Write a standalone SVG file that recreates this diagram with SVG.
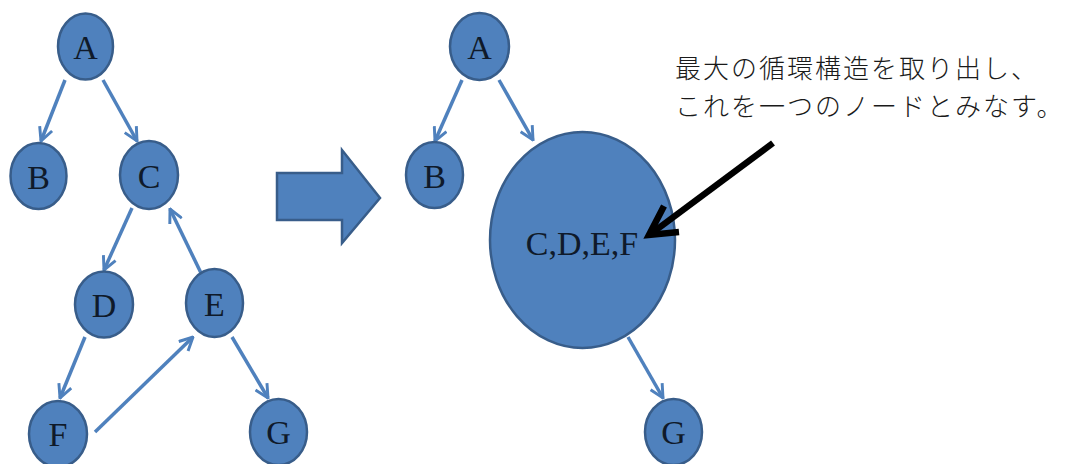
<svg xmlns="http://www.w3.org/2000/svg" width="1070" height="464" viewBox="0 0 1070 464">
  <style>
    .node ellipse { fill: #4F81BD; stroke: #385D8A; stroke-width: 2.5; }
    .node text { font-family: "Liberation Serif", "DejaVu Serif", serif; font-size: 34px; fill: #0F1A2A; text-anchor: middle; dominant-baseline: central; }
    .edge { stroke: #4F81BD; stroke-width: 3.5; fill: none; marker-end: url(#open); }
    .note { font-family: "Noto Sans CJK JP", "Noto Sans", sans-serif; font-size: 26px; font-weight: 300; letter-spacing: 2px; fill: #1A1A1A; }
    .pointer { stroke: #000; stroke-width: 6.5; fill: none; stroke-linecap: butt; stroke-linejoin: miter; }
  </style>
  <defs>
    <marker id="open" viewBox="0 0 12 12" refX="11" refY="6" markerWidth="16" markerHeight="16" markerUnits="userSpaceOnUse" orient="auto">
      <path d="M1,1 L11,6 L1,11" fill="none" stroke="#4F81BD" stroke-width="2.2" stroke-linejoin="miter"/>
    </marker>
  </defs>

  <rect width="1070" height="464" fill="#FFFFFF"/>

  <!-- connectors -->
  <g id="connectors">
    <!-- left graph -->
    <line class="edge" x1="65" y1="80" x2="41" y2="141"/>
    <line class="edge" x1="103" y1="80" x2="137" y2="141"/>
    <line class="edge" x1="132" y1="208" x2="104" y2="270"/>
    <line class="edge" x1="201" y1="273" x2="170" y2="209"/>
    <line class="edge" x1="85" y1="337" x2="60" y2="398"/>
    <line class="edge" x1="95" y1="432" x2="193" y2="337"/>
    <line class="edge" x1="232" y1="337" x2="268" y2="398"/>
    <!-- right graph -->
    <line class="edge" x1="462" y1="80" x2="435" y2="141"/>
    <line class="edge" x1="499" y1="80" x2="533" y2="140"/>
    <line class="edge" x1="628" y1="337" x2="663" y2="398"/>
  </g>

  <!-- transformation arrow -->
  <g id="transform-arrow">
    <polygon points="277,173 342,173 342,150 380,198 342,243 342,220 277,220" fill="#4F81BD" stroke="#385D8A" stroke-width="2.5" stroke-linejoin="miter"/>
  </g>

  <!-- left graph nodes -->
  <g id="nodeA1" class="node"><ellipse cx="85.5" cy="46.5" rx="27.5" ry="33"/><text x="85.5" y="47">A</text></g>
  <g id="nodeB1" class="node"><ellipse cx="38.5" cy="176" rx="28" ry="33"/><text x="38.5" y="177">B</text></g>
  <g id="nodeC1" class="node"><ellipse cx="149" cy="175" rx="29" ry="34"/><text x="149" y="176">C</text></g>
  <g id="nodeD1" class="node"><ellipse cx="104" cy="304.5" rx="29" ry="33"/><text x="104" y="305">D</text></g>
  <g id="nodeE1" class="node"><ellipse cx="214.5" cy="303" rx="28.5" ry="34"/><text x="214.5" y="304">E</text></g>
  <g id="nodeF1" class="node"><ellipse cx="58" cy="434" rx="29" ry="33"/><text x="58" y="434">F</text></g>
  <g id="nodeG1" class="node"><ellipse cx="278.5" cy="432" rx="28.5" ry="33"/><text x="278.5" y="432">G</text></g>

  <!-- right graph nodes -->
  <g id="nodeA2" class="node"><ellipse cx="479.5" cy="46.5" rx="29.5" ry="33.5"/><text x="479.5" y="47">A</text></g>
  <g id="nodeB2" class="node"><ellipse cx="434.5" cy="175" rx="28.5" ry="33"/><text x="434.5" y="176">B</text></g>
  <g id="nodeCDEF" class="node"><ellipse cx="582.5" cy="240" rx="92.5" ry="108"/><text x="582" y="243">C,D,E,F</text></g>
  <g id="nodeG2" class="node"><ellipse cx="673.5" cy="432" rx="28.5" ry="33"/><text x="673.5" y="432">G</text></g>

  <!-- callout: note text and thick pointer into the merged node -->
  <g id="callout">
    <text class="note" x="675" y="78">最大の循環構造を取り出し、</text>
    <text class="note" x="675" y="116">これを一つのノードとみなす。</text>
    <line class="pointer" x1="773" y1="143" x2="652" y2="233"/>
    <path class="pointer" d="M664,206 L649,235 L679,232"/>
  </g>
</svg>
